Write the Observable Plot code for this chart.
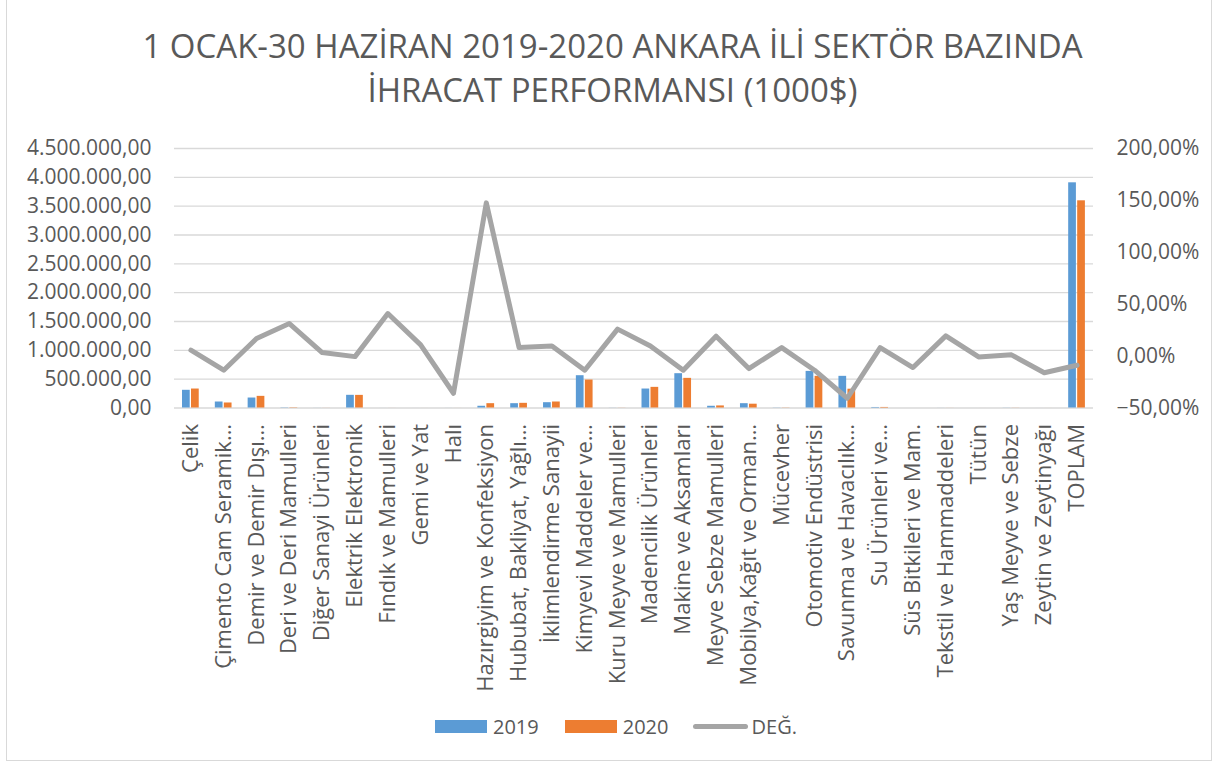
<!DOCTYPE html>
<html>
<head>
<meta charset="utf-8">
<script src="https://cdn.jsdelivr.net/npm/d3@7"></script>
<script src="https://cdn.jsdelivr.net/npm/@observablehq/plot@0.6"></script>
<style>
  body { margin: 0; background: #fff; font-family: "Open Sans", sans-serif; }
  #page { position: relative; width: 1217px; height: 762px; overflow: hidden; background: #fff; }
  #frame { position: absolute; left: 6px; top: -2px; width: 1206px; height: 763px; border: 1.5px solid #d9d9d9; box-sizing: border-box; pointer-events: none; }
  #title { margin: 0; padding-top: 24px; padding-left: 8px; text-align: center; font-size: 33px; line-height: 44px; color: #595959; font-weight: 400; height: 89px; }
  #chart svg { display: block; }
  #legend { display: flex; align-items: center; padding-left: 435px; height: 26px; font-size: 20px; color: #595959; }
  .sw { display: inline-block; width: 52px; height: 13px; margin-right: 6px; }
  .ln { display: inline-block; width: 55px; height: 5px; border-radius: 3px; background: #A5A5A5; margin-right: 4px; }
  .lt { margin-right: 26px; }
</style>
</head>
<body>
<div id="page">
  <div id="title">1 OCAK-30 HAZİRAN 2019-2020 ANKARA İLİ SEKTÖR BAZINDA<br>İHRACAT PERFORMANSI (1000$)</div>
  <div id="chart"></div>
  <div id="legend">
    <span class="sw" style="background:#5B9BD5"></span><span class="lt">2019</span>
    <span class="sw" style="background:#ED7D31"></span><span class="lt" style="margin-right:24px">2020</span>
    <span class="ln"></span><span>DEĞ.</span>
  </div>
  <div id="frame"></div>
</div>
<script>
const categories = [
  "Çelik", "Çimento Cam Seramik…", "Demir ve Demir Dışı…", "Deri ve Deri Mamulleri",
  "Diğer Sanayi Ürünleri", "Elektrik Elektronik", "Fındık ve Mamulleri", "Gemi ve Yat",
  "Halı", "Hazırgiyim ve Konfeksiyon", "Hububat, Bakliyat, Yağlı…", "İklimlendirme Sanayii",
  "Kimyevi Maddeler ve…", "Kuru Meyve ve Mamulleri", "Madencilik Ürünleri", "Makine ve Aksamları",
  "Meyve Sebze Mamulleri", "Mobilya,Kağıt ve Orman…", "Mücevher", "Otomotiv Endüstrisi",
  "Savunma ve Havacılık…", "Su Ürünleri ve…", "Süs Bitkileri ve Mam.", "Tekstil ve Hammaddeleri",
  "Tütün", "Yaş Meyve ve Sebze", "Zeytin ve Zeytinyağı", "TOPLAM"
];
const values2019 = [307000, 104000, 173000, 4000, 800, 220000, 300, 200, 500, 30000, 75000, 92000,
  560000, 1200, 329000, 595000, 30000, 75000, 2500, 635000, 549000, 9000, 100, 600, 150, 1500, 200, 3905000];
const values2020 = [329000, 87000, 202000, 5250, 830, 219000, 420, 220, 320, 75000, 81000, 104000,
  485000, 1500, 358000, 514000, 36000, 66000, 2700, 549000, 326000, 9700, 90, 720, 150, 1520, 170, 3593000];
const degPct = [5.7, -13.6, 16.9, 31.4, 3.4, -0.5, 41, 10.8, -35.8, 147.6, 8.2, 9.8,
  -13.6, 26, 9.8, -13.6, 19.2, -12, 8.2, -13.6, -40.6, 8.2, -11, 19.5, -0.8, 1.2, -16, -8.8];
const leftTicks = [0, 500000, 1000000, 1500000, 2000000, 2500000, 3000000, 3500000, 4000000, 4500000];
const rightTicks = [-50, 0, 50, 100, 150, 200];

const data = categories.map((c, i) => ({cat: c, v2019: values2019[i], v2020: values2020[i], deg: degPct[i]}));

const leftMax = 4500000, pMin = -50, pMax = 200;
const toLeft = p => (p - pMin) / (pMax - pMin) * leftMax;
const fromLeft = v => v / leftMax * (pMax - pMin) + pMin;

const trLocale = d3.formatLocale({decimal: ",", thousands: ".", grouping: [3], currency: ["", ""]});
const fmtLeft = trLocale.format(",.2f");
const fmtRight = v => trLocale.format(",.2f")(Math.round(fromLeft(v))) + "%";

const chart = Plot.plot({
  width: 1217,
  height: 600,
  marginTop: 35,
  marginBottom: 305.5,
  marginLeft: 174,
  marginRight: 124,
  style: {fontFamily: "Open Sans, sans-serif", color: "#595959", background: "transparent"},
  x: {domain: categories, padding: 0, round: false},
  y: {domain: [0, leftMax]},
  marks: [
    Plot.ruleY(leftTicks, {stroke: "#d9d9d9", strokeWidth: 1.3}),
    Plot.barY(data, {x: "cat", y: "v2019", fill: "#5B9BD5", insetLeft: 8, insetRight: 17.1}),
    Plot.barY(data, {x: "cat", y: "v2020", fill: "#ED7D31", insetLeft: 17, insetRight: 8.1}),
    Plot.line(data, {x: "cat", y: d => toLeft(d.deg), stroke: "#A5A5A5", strokeWidth: 5, strokeLinejoin: "round", strokeLinecap: "round"}),
    Plot.axisY(leftTicks, {anchor: "left", tickSize: 0, tickPadding: 23, tickFormat: fmtLeft, fontSize: 21, label: null}),
    Plot.axisY(rightTicks.map(toLeft), {anchor: "right", tickSize: 0, tickPadding: 23, tickFormat: fmtRight, fontSize: 21, label: null}),
    Plot.axisX({tickRotate: -90, tickSize: 0, tickPadding: 16, fontSize: 22, label: null})
  ]
});
document.getElementById("chart").appendChild(chart);
</script>
</body>
</html>
